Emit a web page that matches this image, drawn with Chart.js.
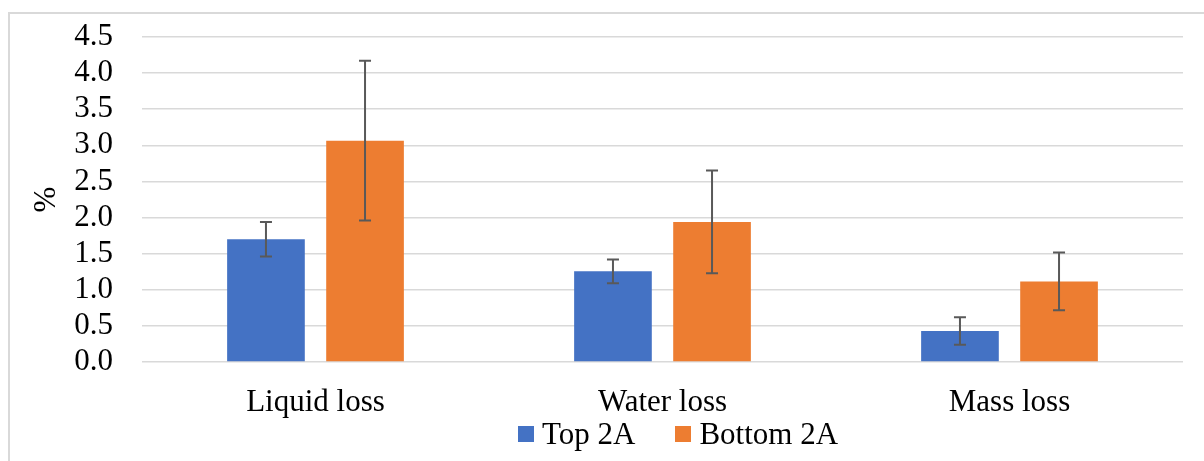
<!DOCTYPE html>
<html>
<head>
<meta charset="utf-8">
<script src="https://cdn.jsdelivr.net/npm/chart.js@4"></script>
<style>
  body { margin: 0; background: #fff; overflow: hidden; }
  #wrap { position: relative; width: 1204px; height: 461px; }
  #frame { position: absolute; left: 8px; top: 12px; right: -10px; bottom: -10px;
           border-top: 2px solid #d9d9d9; border-left: 2px solid #d9d9d9; pointer-events: none; }
  #legend { position: absolute; left: 518px; top: 416px; display: flex; align-items: center;
            font-family: "Liberation Serif", "Times New Roman", serif; font-size: 31px; color: #000; }
  #legend .item { display: flex; align-items: center; margin-right: 40px; }
  #legend .box { width: 16px; height: 16px; margin-right: 8px; }
</style>
</head>
<body>
<div id="wrap">
  <canvas id="myChart"></canvas>
  <div id="frame"></div>
  <div id="legend"></div>
</div>
<script>
// values
var categories = ["Liquid loss", "Water loss", "Mass loss"];
var seriesNames = ["Top 2A", "Bottom 2A"];
var topValues = [1.70, 1.255, 0.43];
var topErrors = [0.24, 0.165, 0.19];
var bottomValues = [3.065, 1.94, 1.115];
var bottomErrors = [1.105, 0.71, 0.40];
var yTicks = [0, 0.5, 1, 1.5, 2, 2.5, 3, 3.5, 4, 4.5];

var serif = "'Liberation Serif', 'Times New Roman', serif";

// draws the +/- error bars for each bar
var errorBars = {
    id: 'errorBars',
    afterDatasetsDraw: function(chart) {
        var ctx = chart.ctx;
        var y = chart.scales.y;
        ctx.save();
        ctx.strokeStyle = '#595959';
        ctx.lineWidth = 2;
        chart.data.datasets.forEach(function(ds, di) {
            var meta = chart.getDatasetMeta(di);
            meta.data.forEach(function(bar, i) {
                var v = ds.data[i], e = ds.errors[i];
                var yHi = y.getPixelForValue(v + e);
                var yLo = y.getPixelForValue(v - e);
                ctx.beginPath();
                ctx.moveTo(bar.x, yHi); ctx.lineTo(bar.x, yLo);
                ctx.moveTo(bar.x - 6, yHi); ctx.lineTo(bar.x + 6, yHi);
                ctx.moveTo(bar.x - 6, yLo); ctx.lineTo(bar.x + 6, yLo);
                ctx.stroke();
            });
        });
        ctx.restore();
    }
};

var ctx = document.getElementById("myChart").getContext('2d');
var myChart = new Chart(ctx, {
    type: 'bar',
    data: {
        labels: categories,
        datasets: [{
            label: seriesNames[0],
            data: topValues,
            errors: topErrors,
            backgroundColor: '#4472C4'
        }, {
            label: seriesNames[1],
            data: bottomValues,
            errors: bottomErrors,
            backgroundColor: '#ED7D31'
        }]
    },
    options: {
        responsive: true,
        maintainAspectRatio: false,
        animation: false,
        categoryPercentage: 0.571,
        barPercentage: 0.784,
        layout: { padding: { top: 37, right: 21, bottom: 0, left: 0 } },
        plugins: {
            legend: { display: false },
            tooltip: { enabled: false }
        },
        scales: {
            x: {
                grid: { display: false, drawTicks: false },
                border: { display: false },
                ticks: { color: '#000', font: { family: serif, size: 31 }, padding: 22 },
                afterFit: function(scale) { scale.height = 99; }
            },
            y: {
                min: 0,
                max: 4.5,
                afterBuildTicks: function(scale) {
                    scale.ticks = yTicks.map(function(v) { return { value: v }; });
                },
                grid: { color: '#d9d9d9', lineWidth: 1.5, drawTicks: false },
                border: { display: false },
                ticks: {
                    color: '#000',
                    autoSkip: false,
                    font: { family: serif, size: 31 },
                    padding: 29,
                    callback: function(v) { return Number(v).toFixed(1); }
                },
                title: {
                    display: true,
                    text: '%',
                    color: '#000',
                    font: { family: serif, size: 31 },
                    padding: { top: 28, bottom: 0 }
                },
                afterFit: function(scale) {
                    scale.width = 142;
                    scale.paddingTop = 0;
                    scale.paddingBottom = 0;
                }
            }
        }
    },
    plugins: [errorBars]
});

// legend built from the chart's own datasets
var legend = document.getElementById('legend');
myChart.data.datasets.forEach(function(ds) {
    var item = document.createElement('div');
    item.className = 'item';
    var box = document.createElement('span');
    box.className = 'box';
    box.style.background = ds.backgroundColor;
    var label = document.createElement('span');
    label.textContent = ds.label;
    item.appendChild(box);
    item.appendChild(label);
    legend.appendChild(item);
});
</script>
</body>
</html>
